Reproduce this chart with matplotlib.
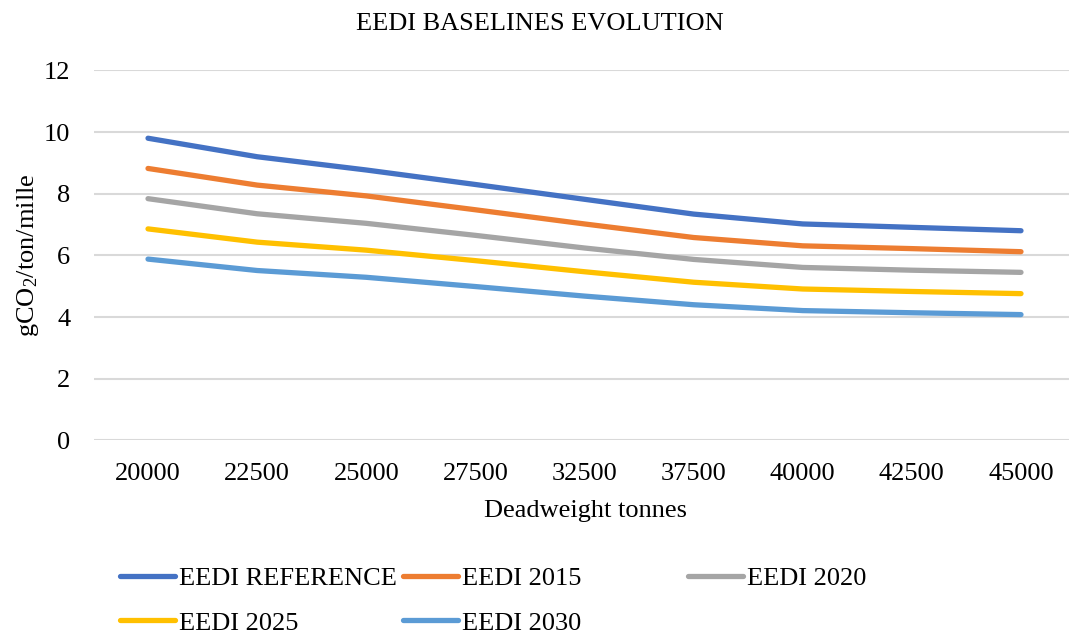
import matplotlib
matplotlib.use("Agg")
import matplotlib.pyplot as plt

plt.rcParams['font.family'] = ['Liberation Serif', 'DejaVu Serif']
plt.rcParams['mathtext.fontset'] = 'custom'
plt.rcParams['mathtext.rm'] = 'Liberation Serif'
plt.rcParams['mathtext.it'] = 'Liberation Serif:italic'

categories = ["20000", "22500", "25000", "27500", "32500", "37500", "40000", "42500", "45000"]
eedi_reference = [9.80, 9.20, 8.77, 8.30, 7.82, 7.34, 7.02, 6.91, 6.80]
eedi_2015 = [8.82, 8.28, 7.93, 7.48, 7.02, 6.58, 6.31, 6.22, 6.12]
eedi_2020 = [7.84, 7.35, 7.04, 6.65, 6.24, 5.87, 5.61, 5.52, 5.45]
eedi_2025 = [6.86, 6.43, 6.17, 5.83, 5.47, 5.13, 4.91, 4.83, 4.76]
eedi_2030 = [5.88, 5.51, 5.29, 4.99, 4.68, 4.40, 4.21, 4.14, 4.08]

series = [
    ("EEDI REFERENCE", eedi_reference, "#4472C4"),
    ("EEDI 2015", eedi_2015, "#ED7D31"),
    ("EEDI 2020", eedi_2020, "#A5A5A5"),
    ("EEDI 2025", eedi_2025, "#FFC000"),
    ("EEDI 2030", eedi_2030, "#5B9BD5"),
]

W, H = 1069, 636
fig = plt.figure(figsize=(W / 100, H / 100), dpi=100)
left, right = 94, 1069
top, bottom = 70.4, 440.4
ax = fig.add_axes([left / W, 1 - bottom / H, (right - left) / W, (bottom - top) / H])

x = list(range(len(categories)))
handles = []
for name, vals, col in series:
    ln, = ax.plot(x, vals, color=col, lw=3.8, solid_capstyle='round',
                  solid_joinstyle='round', label=name, zorder=3)
    handles.append(ln)

ax.set_xlim(-0.495, 8.44)
ax.set_ylim(0, 12)
ax.set_yticks(range(0, 13, 2))
ax.set_xticks(x)
ax.set_xticklabels(categories)
ax.grid(axis='y', color='#D9D9D9', lw=1.5, zorder=0)
ax.set_axisbelow(True)
for s in ax.spines.values():
    s.set_visible(False)
ax.tick_params(length=0, labelsize=19, colors='black')
ax.tick_params(axis='y', pad=17)
ax.tick_params(axis='x', pad=16.5)

fig.text(540 / W, 1 - 24 / H, "EEDI BASELINES EVOLUTION", ha='center', va='center', fontsize=19)
fig.text(585 / W, 1 - 511 / H, "Deadweight tonnes", ha='center', va='center', fontsize=19)
fig.text(28 / W, 1 - 255 / H, "gCO$_2$/ton/mille", ha='center', va='center',
         rotation=90, fontsize=19)

cols = [[0, 3], [1, 4], [2]]
xs = [120, 403, 688]
for idxs, xp in zip(cols, xs):
    fig.legend([handles[i] for i in idxs], [series[i][0] for i in idxs],
               loc='upper left', bbox_to_anchor=(xp / W, 1 - 567 / H),
               frameon=False, fontsize=19, handlelength=2.08,
               handletextpad=0.15, labelspacing=0.78, borderpad=0,
               borderaxespad=0)

fig.savefig("out.png", dpi=100, facecolor='white')
